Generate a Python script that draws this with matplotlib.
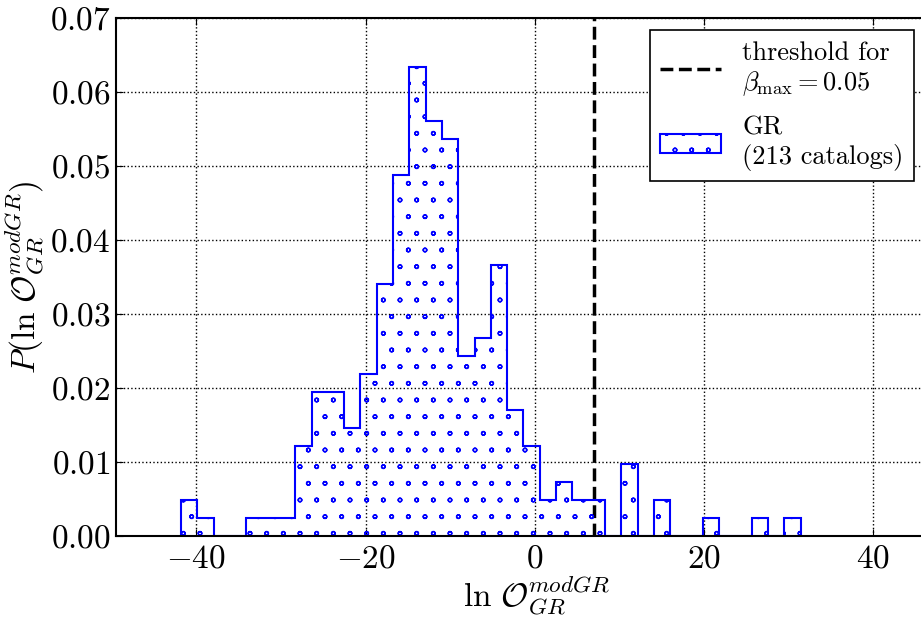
import numpy as np
import matplotlib
matplotlib.use('Agg')
import matplotlib.pyplot as plt
import matplotlib.hatch

plt.rcParams['font.family'] = ['cmr10', 'DejaVu Serif']
plt.rcParams['mathtext.fontset'] = 'cm'
plt.rcParams['axes.formatter.use_mathtext'] = True
plt.rcParams['hatch.linewidth'] = 1.0
# smaller hollow circles like the old 'o' hatch
matplotlib.hatch.SmallCircles.size = 0.11

# histogram of ln O (213 catalogs), 38 equal bins between the data extremes
data_min = -41.8
data_max = 31.4
counts = [2, 1, 0, 0, 1, 1, 1, 5, 8, 8, 6, 9, 14, 20, 26, 23, 22, 10, 11,
          15, 7, 5, 2, 3, 2, 2, 0, 4, 0, 2, 0, 0, 1, 0, 0, 1, 0, 1]
threshold = 7.0

edges = np.linspace(data_min, data_max, len(counts) + 1)
centers = 0.5 * (edges[:-1] + edges[1:])
samples = np.repeat(centers, counts)

fig = plt.figure(figsize=(9.21, 6.19), dpi=100)
ax = fig.add_axes([0.12595, 0.1341, 0.9141, 0.8368])

ax.axvline(threshold, color='k', ls='--', lw=2.5,
           label='threshold for\n$\\beta_{\\max} = 0.05$')
ax.hist(samples, bins=edges, density=True, histtype='step', hatch='o',
        color='blue', lw=1.5, label='GR\n(%d catalogs)' % len(samples))

ax.set_xlim(-49.5, 50)
ax.set_ylim(0, 0.07)
ax.set_xticks([-40, -20, 0, 20, 40])
ax.set_yticks(np.arange(0, 0.071, 0.01))
ax.yaxis.set_major_formatter(matplotlib.ticker.FormatStrFormatter('$%.2f$'))
ax.grid(True, color='k', ls=':', lw=1.0)
ax.tick_params(direction='in', top=True, right=True, length=5, labelsize=24)
ax.tick_params(axis='y', pad=4)
ax.tick_params(axis='x', pad=6)
for s in ax.spines.values():
    s.set_linewidth(1.5)

ax.set_xlabel('$\\ln\\,\\mathcal{O}_{GR}^{modGR}$', fontsize=24, labelpad=0)
ax.set_ylabel('$P(\\ln\\,\\mathcal{O}_{GR}^{modGR})$', fontsize=24, labelpad=2)

leg = ax.legend(loc='upper right', bbox_to_anchor=(0.948, 0.976), borderaxespad=0,
                fontsize=19, fancybox=False, framealpha=1, edgecolor='k',
                handlelength=2.3, labelspacing=0.7)
leg.get_frame().set_linewidth(1.2)

fig.savefig('out.png', dpi=100)
